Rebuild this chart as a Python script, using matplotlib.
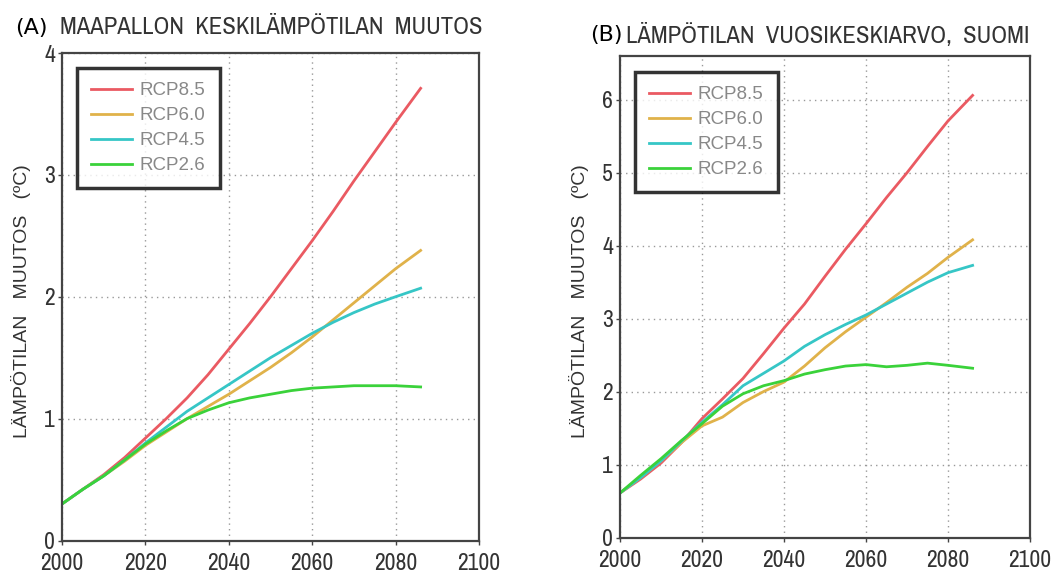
import matplotlib
matplotlib.use('Agg')
import matplotlib.pyplot as plt

# --- data ---
years = [2000, 2005, 2010, 2015, 2020, 2025, 2030, 2035, 2040, 2045,
         2050, 2055, 2060, 2065, 2070, 2075, 2080, 2086]
scenarios = ['RCP8.5', 'RCP6.0', 'RCP4.5', 'RCP2.6']

# (A) global mean temperature change
glob_rcp85 = [0.30, 0.42, 0.54, 0.68, 0.84, 1.00, 1.17, 1.36, 1.57, 1.78,
              2.00, 2.23, 2.46, 2.70, 2.95, 3.19, 3.43, 3.71]
glob_rcp60 = [0.30, 0.42, 0.53, 0.65, 0.78, 0.89, 1.00, 1.10, 1.20, 1.31,
              1.42, 1.54, 1.67, 1.81, 1.95, 2.09, 2.23, 2.38]
glob_rcp45 = [0.30, 0.42, 0.53, 0.66, 0.80, 0.93, 1.06, 1.17, 1.28, 1.39,
              1.50, 1.60, 1.70, 1.79, 1.87, 1.94, 2.00, 2.07]
glob_rcp26 = [0.30, 0.42, 0.53, 0.66, 0.79, 0.90, 1.00, 1.07, 1.13, 1.17,
              1.20, 1.23, 1.25, 1.26, 1.27, 1.27, 1.27, 1.26]

# (B) annual mean temperature, Finland
fin_rcp85 = [0.61, 0.80, 1.02, 1.30, 1.63, 1.90, 2.18, 2.52, 2.87, 3.20,
             3.58, 3.95, 4.30, 4.66, 5.00, 5.36, 5.71, 6.06]
fin_rcp60 = [0.61, 0.82, 1.05, 1.30, 1.53, 1.65, 1.85, 2.00, 2.13, 2.35,
             2.60, 2.82, 3.02, 3.22, 3.43, 3.62, 3.84, 4.08]
fin_rcp45 = [0.61, 0.82, 1.05, 1.32, 1.58, 1.82, 2.08, 2.25, 2.42, 2.62,
             2.78, 2.92, 3.05, 3.20, 3.35, 3.50, 3.63, 3.73]
fin_rcp26 = [0.61, 0.85, 1.08, 1.33, 1.56, 1.80, 1.97, 2.08, 2.15, 2.24,
             2.30, 2.35, 2.37, 2.34, 2.36, 2.39, 2.36, 2.32]

colors = ['#ea5a62', '#e0b24a', '#36c6c6', '#3ad23a']
narrow = ['Archivo Narrow', 'DejaVu Sans']
plain = ['Liberation Sans', 'DejaVu Sans']

fig = plt.figure(figsize=(10.58, 5.73), dpi=100)
ax_a = fig.add_axes([62 / 1058, 1 - 540.5 / 573, 417 / 1058, 487.5 / 573])
ax_b = fig.add_axes([620 / 1058, 1 - 537.5 / 573, 410 / 1058, 481.5 / 573])


def style_axes(ax, ymax, yticks, legend_anchor, label_x):
    ax.set_xlim(2000, 2100)
    ax.set_ylim(0, ymax)
    ax.set_xticks([2000, 2020, 2040, 2060, 2080, 2100])
    ax.set_yticks(yticks)
    ax.grid(True, linestyle=(0, (1, 3)), color='#999999', linewidth=1.0)
    ax.set_axisbelow(True)
    for s in ax.spines.values():
        s.set_color('#444444')
        s.set_linewidth(1.6)
    ax.tick_params(direction='out', length=3, width=1, colors='#444444',
                   labelcolor='#333333', labelsize=17, pad=2)
    ax.tick_params(axis='x', pad=6)
    for lab in ax.get_xticklabels() + ax.get_yticklabels():
        lab.set_family(narrow)
    ax.set_ylabel('LÄMPÖTILAN   MUUTOS   (ºC)', fontsize=14, color='#333333',
                  family=plain)
    ax.yaxis.set_label_coords(label_x, 0.49)
    leg = ax.legend(loc='upper left', bbox_to_anchor=legend_anchor,
                    borderaxespad=0, fancybox=False, handlelength=2.2,
                    labelspacing=0.42, borderpad=0.75, handletextpad=0.4,
                    prop={'family': plain, 'size': 13.5})
    leg.get_frame().set_edgecolor('black')
    leg.get_frame().set_linewidth(2.5)
    for t in leg.get_texts():
        t.set_color('#888888')


for ys, c, lab in zip([glob_rcp85, glob_rcp60, glob_rcp45, glob_rcp26], colors, scenarios):
    ax_a.plot(years, ys, color=c, lw=2.0, label=lab)
for ys, c, lab in zip([fin_rcp85, fin_rcp60, fin_rcp45, fin_rcp26], colors, scenarios):
    ax_b.plot(years, ys, color=c, lw=2.0, label=lab)

style_axes(ax_a, 4, [0, 1, 2, 3, 4], (0.036, 0.969), -0.075)
style_axes(ax_b, 6.6, [0, 1, 2, 3, 4, 5, 6], (0.037, 0.967), -0.076)

# titles
fig.text(15 / 1058, 1 - 28 / 573, '(A)', fontsize=16, color='black', va='center')
fig.text(60 / 1058, 1 - 28 / 573, 'MAAPALLON  KESKILÄMPÖTILAN  MUUTOS',
         fontsize=17.8, color='#333333', va='center', family=narrow)
fig.text(590 / 1058, 1 - 35 / 573, '(B)', fontsize=16, color='black', va='center')
fig.text(626 / 1058, 1 - 35 / 573, 'LÄMPÖTILAN  VUOSIKESKIARVO,  SUOMI',
         fontsize=17.8, color='#333333', va='center', family=narrow)

fig.savefig('out.png', dpi=100)
